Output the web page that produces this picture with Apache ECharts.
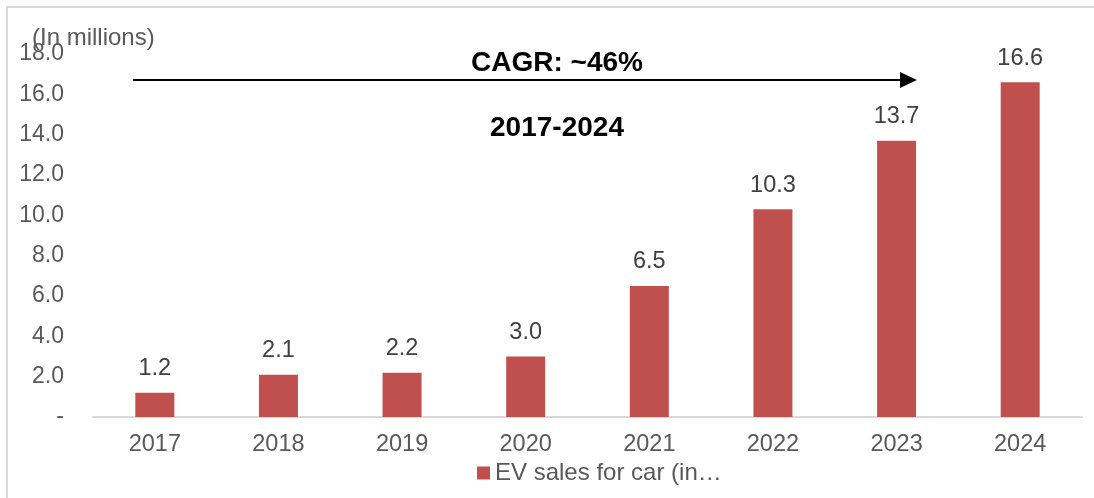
<!DOCTYPE html>
<html>
<head>
<meta charset="utf-8">
<script src="https://cdn.jsdelivr.net/npm/echarts@6/dist/echarts.min.js"></script>
<style>
  html, body { margin: 0; padding: 0; background: #fff; }
  #chart { width: 1094px; height: 498px; }
</style>
</head>
<body>
<div id="chart"></div>
<script>
const years = ['2017', '2018', '2019', '2020', '2021', '2022', '2023', '2024'];
const evSales = [1.2, 2.1, 2.2, 3.0, 6.5, 10.3, 13.7, 16.6]; // in millions
const seriesName = 'EV sales for car (in…';

const font = '"Liberation Sans", Arial, sans-serif';
const chart = echarts.init(document.getElementById('chart'));

const option = {
    animation: false,
    textStyle: { fontFamily: font },
    grid: { left: 93, right: 12, top: 54, bottom: 81 },
    legend: {
        left: 472,
        top: 456,
        itemWidth: 13,
        itemHeight: 13,
        icon: 'rect',
        textStyle: { fontSize: 24, color: '#595959', fontFamily: font },
        data: [seriesName]
    },
    xAxis: {
        type: 'category',
        data: years,
        axisLine: { lineStyle: { color: '#D9D9D9', width: 2 } },
        axisTick: { show: false },
        axisLabel: { fontSize: 23.5, color: '#595959', margin: 16 }
    },
    yAxis: {
        type: 'value',
        min: 0,
        max: 18,
        interval: 2,
        splitLine: { show: false },
        axisLine: { show: false },
        axisTick: { show: false },
        axisLabel: {
            fontSize: 23,
            color: '#595959',
            margin: 29,
            formatter: v => v === 0 ? '-' : v.toFixed(1)
        }
    },
    series: [{
        name: seriesName,
        type: 'bar',
        data: evSales,
        barWidth: 39,
        itemStyle: { color: '#C0504D' },
        label: {
            show: true,
            position: 'top',
            distance: 12,
            fontSize: 23.5,
            color: '#404040',
            formatter: p => p.value.toFixed(1)
        }
    }],
    graphic: [
        // outer frame (only top/left edges visible in the crop)
        { type: 'rect', shape: { x: 7, y: 7, width: 1200, height: 600 },
          style: { fill: 'none', stroke: '#D9D9D9', lineWidth: 2 }, silent: true },
        { type: 'text', left: 32, top: 26,
          style: { text: '(In millions)', fontSize: 24, fill: '#595959', fontFamily: font } },
        // CAGR arrow
        { type: 'line', shape: { x1: 133, y1: 80, x2: 902, y2: 80 },
          style: { stroke: '#000', lineWidth: 2 } },
        { type: 'polygon', shape: { points: [[900, 72], [917, 80], [900, 88]] },
          style: { fill: '#000' } },
        { type: 'text', x: 557, y: 63,
          style: { text: 'CAGR: ~46%', fontSize: 28, fontWeight: 'bold', fill: '#000',
                   fontFamily: font, align: 'center', verticalAlign: 'middle' } },
        { type: 'text', x: 557, y: 128,
          style: { text: '2017-2024', fontSize: 28, fontWeight: 'bold', fill: '#000',
                   fontFamily: font, align: 'center', verticalAlign: 'middle' } }
    ]
};

chart.setOption(option);
</script>
</body>
</html>
